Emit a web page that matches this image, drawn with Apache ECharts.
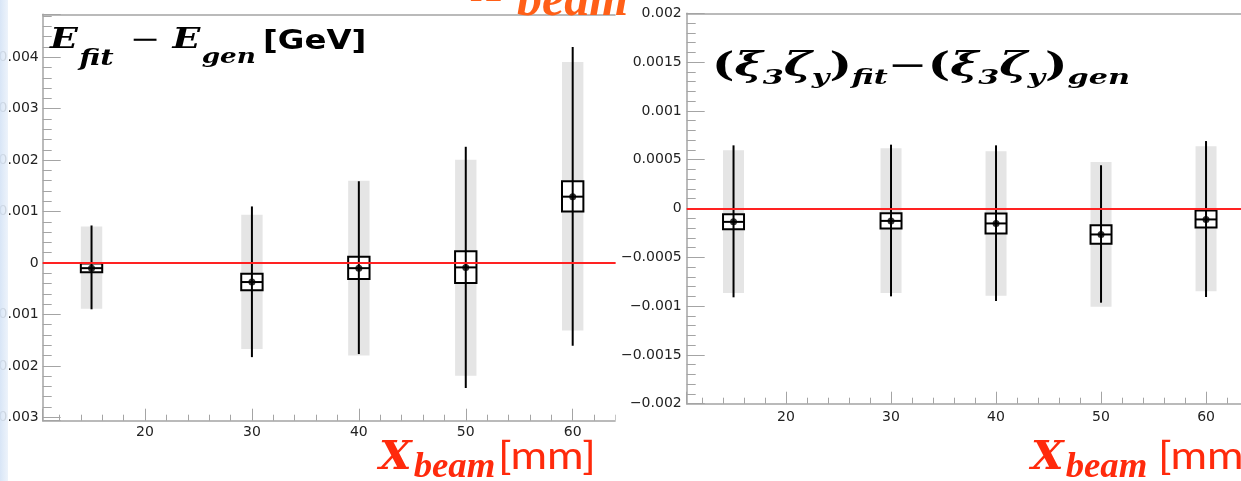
<!DOCTYPE html>
<html><head><meta charset="utf-8">
<script src="https://cdn.jsdelivr.net/npm/echarts@6/dist/echarts.min.js"></script>
<style>html,body{margin:0;padding:0;background:#fff;overflow:hidden}#c{width:1241px;height:481px}</style>
</head><body><div id="c"></div>
<script>
// ---------- data ----------
const xBeam = [15, 30, 40, 50, 60];

// left panel: E_fit - E_gen [GeV]
const eMean     = [-0.00010, -0.00037, -0.00010, -0.000085, 0.00129];
const eBoxLow   = [-0.00018, -0.00053, -0.00031, -0.00039, 0.00100];
const eBoxHigh  = [-0.00001, -0.00021, 0.00012, 0.00023, 0.00159];
const eErrLow   = [-0.00090, -0.00183, -0.00177, -0.00243, -0.00161];
const eErrHigh  = [0.00073, 0.00110, 0.00159, 0.00226, 0.00420];
const eBandLow  = [-0.00089, -0.00167, -0.00180, -0.00219, -0.00131];
const eBandHigh = [0.00071, 0.00094, 0.00160, 0.00201, 0.00391];

// right panel: (xi3 zeta_y)_fit - (xi3 zeta_y)_gen
const xiMean     = [-0.000137, -0.000127, -0.000153, -0.000266, -0.000112];
const xiBoxLow   = [-0.000212, -0.000204, -0.000256, -0.000362, -0.000194];
const xiBoxHigh  = [-0.000058, -0.000048, -0.000051, -0.000171, -0.000020];
const xiErrLow   = [-0.000910, -0.000900, -0.000948, -0.000965, -0.000907];
const xiErrHigh  = [0.000647, 0.000654, 0.000647, 0.000443, 0.000691];
const xiBandLow  = [-0.000866, -0.000866, -0.000893, -0.001006, -0.000849];
const xiBandHigh = [0.000596, 0.000617, 0.000586, 0.000476, 0.000637];

// tick labels
const xTicks = [20, 30, 40, 50, 60];
const xTickLabels = ['20', '30', '40', '50', '60'];
const eTicks = [-0.003, -0.002, -0.001, 0, 0.001, 0.002, 0.003, 0.004];
const eTickLabels = ['\u22120.003', '\u22120.002', '\u22120.001', '0', '0.001', '0.002', '0.003', '0.004'];
const xiTicks = [-0.002, -0.0015, -0.001, -0.0005, 0, 0.0005, 0.001, 0.0015, 0.002];
const xiTickLabels = ['\u22120.002', '\u22120.0015', '\u22120.001', '\u22120.0005', '0', '0.0005', '0.001', '0.0015', '0.002'];

// ---------- helpers ----------
const BOX_HALF = 1.0;     // half width (mm) of boxes and bands
const AX = '#a4a4a4';
function labelFrom(ticks, labels) {
  return function (v) {
    const i = ticks.findIndex(t => Math.abs(t - v) < 1e-9);
    return i >= 0 ? labels[i] : '';
  };
}
function rows(x, m, bl, bh, el, eh, gl, gh) {
  return x.map((v, i) => [v, m[i], bl[i], bh[i], el[i], eh[i], gl[i], gh[i]]);
}
const leftRows = rows(xBeam, eMean, eBoxLow, eBoxHigh, eErrLow, eErrHigh, eBandLow, eBandHigh);
const rightRows = rows(xBeam, xiMean, xiBoxLow, xiBoxHigh, xiErrLow, xiErrHigh, xiBandLow, xiBandHigh);

function bandItem(params, api) {
  const x = api.value(0);
  const p1 = api.coord([x - BOX_HALF, api.value(7)]);
  const p2 = api.coord([x + BOX_HALF, api.value(6)]);
  return { type: 'rect', shape: { x: p1[0], y: p1[1], width: p2[0] - p1[0], height: p2[1] - p1[1] },
           style: { fill: '#e5e5e5' } };
}
function markItem(params, api) {
  const x = api.value(0), m = api.value(1);
  const top = api.coord([x, api.value(5)]), bot = api.coord([x, api.value(4)]);
  const b1 = api.coord([x - BOX_HALF, api.value(3)]), b2 = api.coord([x + BOX_HALF, api.value(2)]);
  const cl = api.coord([x - BOX_HALF, m]), cr = api.coord([x + BOX_HALF, m]);
  return { type: 'group', children: [
    { type: 'rect', shape: { x: b1[0], y: b1[1], width: b2[0] - b1[0], height: b2[1] - b1[1] },
      style: { fill: '#fff', stroke: '#000', lineWidth: 2 } },
    { type: 'line', shape: { x1: top[0], y1: top[1], x2: bot[0], y2: bot[1] }, style: { stroke: '#000', lineWidth: 2 } },
    { type: 'line', shape: { x1: cl[0], y1: cl[1], x2: cr[0], y2: cr[1] }, style: { stroke: '#000', lineWidth: 2 } }
  ] };
}

function xAxisCfg(grid, min, max, margin) {
  return { gridIndex: grid, type: 'value', min: min, max: max, minInterval: 10, maxInterval: 10, splitNumber: 5,
    axisLine: { show: true, onZero: false, lineStyle: { color: AX, width: 1.5 } },
    axisTick: { show: true, inside: true, length: 12, lineStyle: { color: AX, width: 1 } },
    minorTick: { show: true, splitNumber: 5, length: 6, lineStyle: { color: AX, width: 1 } },
    axisLabel: { formatter: labelFrom(xTicks, xTickLabels), margin: margin, color: '#222',
                 fontFamily: 'DejaVu Sans', fontSize: 14, hideOverlap: false },
    splitLine: { show: false } };
}
function frameTop(grid) {
  return { gridIndex: grid, type: 'value', position: 'top', min: 0, max: 1,
    axisLine: { show: true, onZero: false, lineStyle: { color: AX, width: 1.5 } },
    axisTick: { show: false }, axisLabel: { show: false }, splitLine: { show: false } };
}
function yAxisCfg(grid, min, max, step, ticks, labels, margin) {
  return { gridIndex: grid, type: 'value', min: min, max: max, minInterval: step, maxInterval: step,
    splitNumber: Math.round((max - min) / step),
    axisLine: { show: true, onZero: false, lineStyle: { color: AX, width: 1.5 } },
    axisTick: { show: true, inside: true, length: 18, lineStyle: { color: AX, width: 1 } },
    minorTick: { show: true, splitNumber: 5, length: 9, lineStyle: { color: AX, width: 1 } },
    axisLabel: { formatter: labelFrom(ticks, labels), margin: margin, color: '#222',
                 fontFamily: 'DejaVu Sans', fontSize: 14, hideOverlap: false },
    splitLine: { show: false } };
}

// ---------- text annotations ----------
const MATH = 'DejaVu Serif';
const MATH2 = 'Liberation Serif';
function mathTok(size, lh, pad, color, fam) {
  return { fontFamily: fam || MATH, fontStyle: 'italic', fontWeight: 'bold', fontSize: size, lineHeight: lh,
           verticalAlign: 'top', padding: pad || [0, 0, 0, 0], fill: color };
}
const leftTitle = {
  type: 'text', x: 50, y: 27, z: 50, scaleX: 1.35,
  style: { text: '{m|E}{s|fit}{o|\u2212}{m|E}{g|gen}', fill: '#000', align: 'left', verticalAlign: 'top',
    rich: {
      m: mathTok(27, 34, [0, 0, 0, 0], '#000'),
      s: mathTok(21.5, 21, [21, 0, 0, 1], '#000'),
      g: mathTok(19.5, 21, [21, 0, 0, 1], '#000'),
      o: { fontFamily: MATH, fontSize: 27, lineHeight: 34, verticalAlign: 'top', padding: [0, 9, 0, 12], fill: '#000' }
    } }
};
const leftUnit = {
  type: 'text', x: 263, y: 26, z: 50, scaleX: 1.2,
  style: { text: '[GeV]', fill: '#000', align: 'left', verticalAlign: 'top',
           fontFamily: 'DejaVu Sans', fontWeight: 'bold', fontSize: 27, lineHeight: 32 }
};
const rightTitle = {
  type: 'text', x: 712, y: 51, z: 50, scaleX: 1.44,
  style: { text: '{p|(}{m|\u03BE}{s|3}{m|\u03B6}{s|y}{p|)}{s|fit}{o|\u2212}{p|(}{m|\u03BE}{s|3}{m|\u03B6}{s|y}{p|)}{s|gen}',
    fill: '#000', align: 'left', verticalAlign: 'top',
    rich: {
      p: { fontFamily: MATH, fontWeight: 'bold', fontSize: 33, lineHeight: 40, verticalAlign: 'top', fill: '#000' },
      m: mathTok(33, 40, [0, 0, 0, 0], '#000'),
      s: mathTok(21, 21, [17, 0, 0, 0], '#000'),
      o: { fontFamily: MATH, fontSize: 33, lineHeight: 40, verticalAlign: 'top', fill: '#000' }
    } }
};
function beamLabel(x, y, unitOffset, color) {
  return [
    { type: 'text', x: x, y: y, z: 50, scaleX: 1.05,
      style: { text: '{m|X}{s|beam}', fill: color, align: 'left', verticalAlign: 'top',
        rich: { m: mathTok(40, 44, [6, 0, 0, 0], color),
                s: mathTok(35, 30, [17, 0, 0, 2], color, MATH2) } } },
    { type: 'text', x: x + unitOffset, y: y + 4, z: 50, scaleX: 1.17,
      style: { text: '[mm]', fill: color, align: 'left', verticalAlign: 'top',
               fontFamily: 'Lato', fontSize: 38, lineHeight: 40 } }
  ];
}
const topBeam = {
  type: 'text', x: 472, y: -35, z: 120,
  style: { text: '{m|X}{s|beam}', fill: '#ff5f17', align: 'left', verticalAlign: 'top',
    rich: {
      m: mathTok(48, 50, [0, 0, 0, 0], '#ff5f17', MATH2),
      s: mathTok(50, 48, [12, 0, 0, 13], '#ff5f17', MATH2)
    } }
};

// ---------- chart ----------
const chart = echarts.init(document.getElementById('c'), null, { renderer: 'canvas' });
chart.setOption({
  animation: false,
  backgroundColor: '#fff',
  grid: [
    { left: 42.7, top: 14.3, width: 582.3, height: 406.4, outerBoundsMode: 'none', containLabel: false },
    { left: 686.7, top: 13.3, width: 574.3, height: 390.4, outerBoundsMode: 'none', containLabel: false }
  ],
  xAxis: [
    xAxisCfg(0, 10.433, 64.892, 4.3),
    xAxisCfg(1, 10.54, 65.235, 7),
    frameTop(0),
    frameTop(1)
  ],
  yAxis: [
    yAxisCfg(0, -0.003066, 0.004836, 0.001, eTicks, eTickLabels, 4),
    yAxisCfg(1, -0.002, 0.002, 0.0005, xiTicks, xiTickLabels, 5)
  ],
  series: [
    { type: 'custom', xAxisIndex: 0, yAxisIndex: 0, z: 1, renderItem: bandItem, data: leftRows, silent: true },
    { type: 'custom', xAxisIndex: 1, yAxisIndex: 1, z: 1, renderItem: bandItem, data: rightRows, silent: true },
    { type: 'line', xAxisIndex: 0, yAxisIndex: 0, z: 2, data: [], silent: true,
      markLine: { silent: true, symbol: 'none', label: { show: false }, animation: false,
                  lineStyle: { color: '#ff2222', width: 2, type: 'solid' }, data: [{ yAxis: 0 }] } },
    { type: 'line', xAxisIndex: 1, yAxisIndex: 1, z: 2, data: [], silent: true,
      markLine: { silent: true, symbol: 'none', label: { show: false }, animation: false,
                  lineStyle: { color: '#ff2222', width: 2, type: 'solid' }, data: [{ yAxis: 0 }] } },
    { type: 'custom', xAxisIndex: 0, yAxisIndex: 0, z: 3, renderItem: markItem, data: leftRows, silent: true },
    { type: 'custom', xAxisIndex: 1, yAxisIndex: 1, z: 3, renderItem: markItem, data: rightRows, silent: true },
    { type: 'scatter', xAxisIndex: 0, yAxisIndex: 0, z: 4, symbol: 'circle', symbolSize: 7,
      itemStyle: { color: '#000' }, data: xBeam.map((x, i) => [x, eMean[i]]), silent: true },
    { type: 'scatter', xAxisIndex: 1, yAxisIndex: 1, z: 4, symbol: 'circle', symbolSize: 7,
      itemStyle: { color: '#000' }, data: xBeam.map((x, i) => [x, xiMean[i]]), silent: true }
  ],
  graphic: [
    // right pad's white margin, covering the clipped end of the left pad (leaves the right pad's labels visible)
    { type: 'rect', z: 100, shape: { x: 615.8, y: 0, width: 5, height: 481 }, style: { fill: '#fff' } },
    { type: 'rect', z: 100, shape: { x: 615.8, y: 0, width: 14.5, height: 252 }, style: { fill: '#fff' } },
    { type: 'rect', z: 100, shape: { x: 615.8, y: 261, width: 14.5, height: 91 }, style: { fill: '#fff' } },
    { type: 'rect', z: 100, shape: { x: 615.8, y: 360, width: 14.5, height: 121 }, style: { fill: '#fff' } },
    { type: 'rect', z: 110, shape: { x: 0, y: 0, width: 8, height: 481 },
      style: { fill: { type: 'linear', x: 0, y: 0, x2: 1, y2: 0,
               colorStops: [{ offset: 0, color: 'rgba(214,228,246,0.95)' }, { offset: 1, color: 'rgba(234,241,250,0.85)' }] } } },
    leftTitle,
    leftUnit,
    rightTitle
  ].concat(beamLabel(379, 433, 119, '#ff2a0c'), beamLabel(1031, 433, 127, '#ff2a0c'), [topBeam])
});
</script>
</body></html>
